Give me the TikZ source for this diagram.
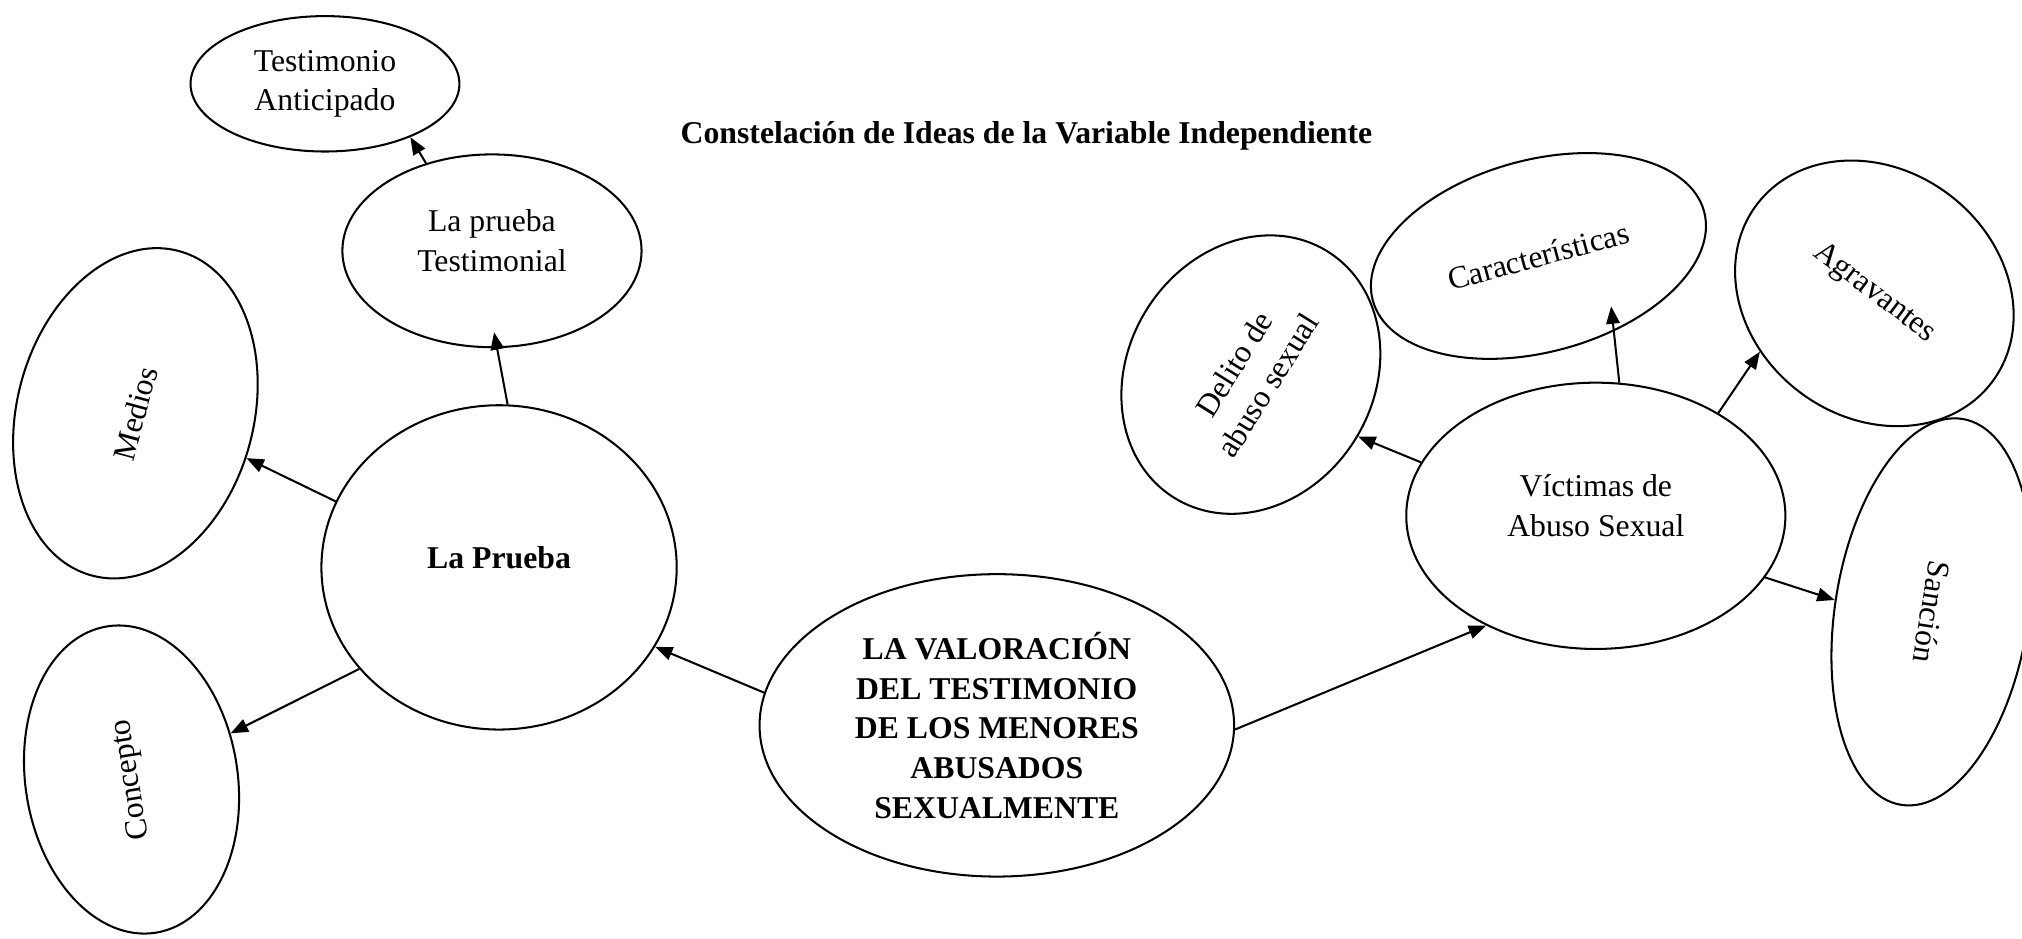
\documentclass[tikz,border=0pt]{standalone}
\usepackage{fontspec}
\setmainfont{Liberation Serif}
\usetikzlibrary{shapes.geometric,arrows.meta}
\newcommand{\bajada}{\rule[-9pt]{0pt}{9pt}}
\begin{document}
\begin{tikzpicture}[
        idea/.style={draw, ellipse, line width=0.9pt, inner sep=0pt, align=center,
          font=\fontsize{14}{17.5}\selectfont},
        flecha/.style={line width=0.9pt, -{Triangle[length=2.7mm,width=2.1mm]}}
      ]
        \useasboundingbox (0, 0) rectangle (31.36, 14.55);
        \node [font=\fontsize{14}{17}\selectfont\bfseries] (titulo) at (15.92, 12.44)
          {Constelación de Ideas de la Variable Independiente};
        \node [idea, minimum width=7.36cm, minimum height=4.69cm,
          font=\fontsize{14}{17.5}\selectfont\bfseries] (valoracion) at (15.46, 3.30)
          {LA VALORACIÓN\\DEL TESTIMONIO\\DE LOS MENORES\\ABUSADOS\\SEXUALMENTE};
        \node [idea, minimum width=5.51cm, minimum height=5.03cm,
          font=\fontsize{14}{17}\selectfont\bfseries] (prueba) at (7.74, 5.75) {La Prueba\bajada};
        \node [idea, minimum width=4.64cm, minimum height=2.99cm] (testimonial) at (7.63, 10.66)
          {La prueba\\Testimonial\bajada};
        \node [idea, minimum width=4.17cm, minimum height=2.10cm] (anticipado) at (5.04, 13.25)
          {Testimonio\\Anticipado};
        \node [idea, minimum width=5.21cm, minimum height=3.67cm, rotate=75] (medios) at (2.10, 8.14)
          {Medios};
        \node [idea, minimum width=4.81cm, minimum height=3.29cm, rotate=99] (concepto) at (2.04, 2.46)
          {Concepto};
        \node [idea, minimum width=5.88cm, minimum height=4.13cm] (victimas) at (24.75, 6.55)
          {Víctimas de\\Abuso Sexual\bajada};
        \node [idea, minimum width=4.50cm, minimum height=3.81cm, rotate=58] (delito) at (19.40, 8.74)
          {Delito de\\abuso sexual};
        \node [idea, minimum width=5.32cm, minimum height=2.98cm, rotate=15] (caracteristicas) at (23.86, 10.58)
          {Características};
        \node [idea, minimum width=4.57cm, minimum height=3.84cm, rotate=-37] (agravantes) at (29.07, 10.00)
          {Agravantes};
        \node [idea, minimum width=6.06cm, minimum height=3.00cm, rotate=-99] (sancion) at (29.96, 5.06)
          {Sanción};
        \draw [flecha] (valoracion.172) -- (prueba.-27);
        \draw [flecha] (valoracion.-1) -- (victimas.225);
        \draw [flecha, shorten >=-0.25cm] (prueba.87) -- (testimonial.-87);
        \draw [flecha] (testimonial.127) -- (anticipado.-32);
        \draw [flecha] (prueba.158) -- (medios.-97);
        \draw [flecha] (prueba.216) -- (concepto.-74);
        \draw [flecha] (victimas.163) -- (delito.-88);
        \draw [flecha, shorten >=-0.39cm] (victimas.80) -- (caracteristicas.-60);
        \draw [flecha] (victimas.40) -- (agravantes.244);
        \draw [flecha] (victimas.-20) -- (sancion.-88);
      \end{tikzpicture}
\end{document}
